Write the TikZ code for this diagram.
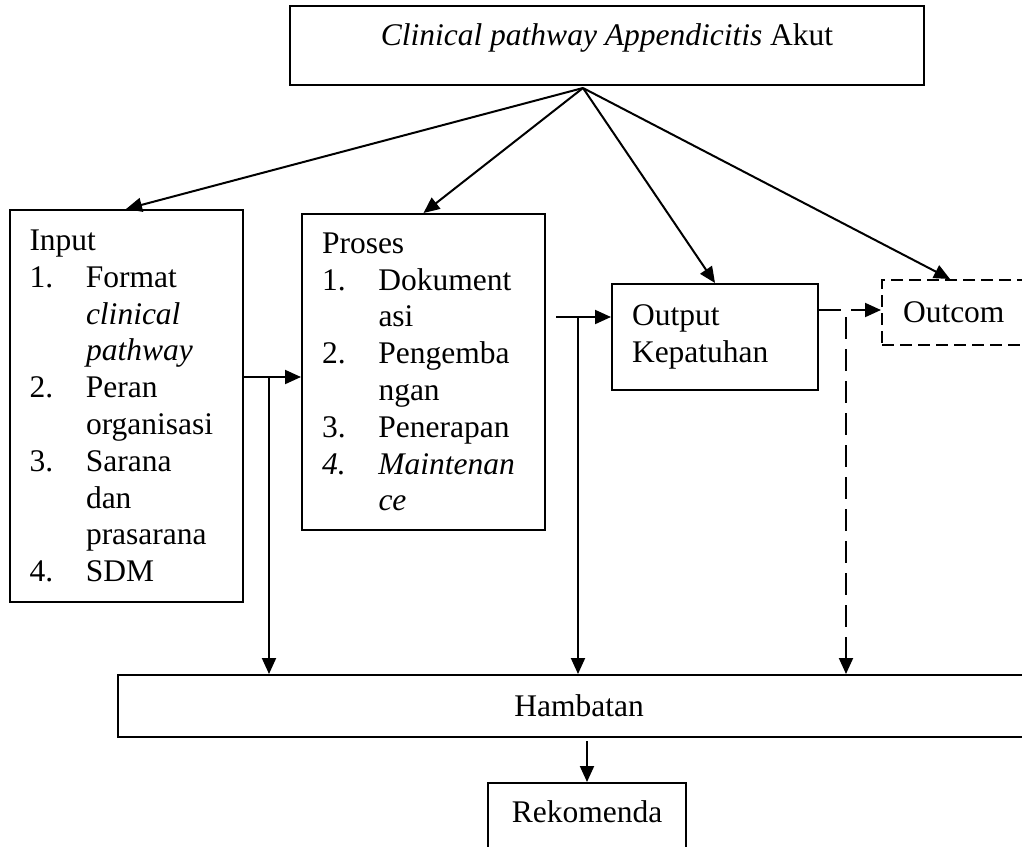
\documentclass[tikz,border=0pt]{standalone}
\usepackage{fontspec}
\setmainfont{Liberation Serif}
\usetikzlibrary{arrows.meta,calc,positioning}
\def\num(#1){\makebox[56.5pt][l]{#1}}
\def\cont(#1){\hspace*{56.5pt}#1}

\begin{document}
\begin{tikzpicture}[x=1pt,y=-1pt,
  every node/.style={font=\fontsize{31.5}{36.8}\selectfont},
  box/.style={draw,line width=2pt,inner xsep=20pt,align=left},
  dashbox/.style={box,dash pattern=on 12pt off 6pt},
  arr/.style={line width=2pt,-{Triangle[length=16pt,width=14pt]}},
  dasharr/.style={arr,dash pattern=on 22pt off 10pt}]

\useasboundingbox (0,0) rectangle (1022,846);
\clip (0,0) rectangle (1022,846);

\node (title) at (607,45.5) [draw,line width=2pt,minimum width=634pt,inner ysep=8pt,text height=31pt,text depth=32pt] {\textit{Clinical pathway Appendicitis} Akut};

\node (input) at (126,406) [box,minimum width=233pt,minimum height=392pt,text width=193pt]
  {Input\\ \num(1.)Format\\ \cont(\textit{clinical})\\ \cont(\textit{pathway})\\ \num(2.)Peran\\ \cont(organisasi)\\ \num(3.)Sarana\\ \cont(dan)\\ \cont(prasarana)\\ \num(4.)SDM};
\node (proses) at (423.5,372) [box,minimum width=243pt,minimum height=316pt,text width=203pt]
  {Proses\\ \num(1.)Dokument\\ \cont(asi)\\ \num(2.)Pengemba\\ \cont(ngan)\\ \num(3.)Penerapan\\ \num(\textit{4.})\textit{Maintenan}\\ \cont(\textit{ce})};
\node (output) at (715,337) [box,minimum width=206pt,minimum height=106pt,text width=166pt] {Output\\ Kepatuhan};
\node (outcom) at (961,312.5) [dashbox,minimum width=158pt,minimum height=65pt,text width=116pt,inner xsep=21pt] {Outcom};

\node (hambatan) at (579,706) [draw,line width=2pt,minimum width=922pt,minimum height=62pt] {Hambatan};
\node (rekom) at (587,826.5) [draw,line width=2pt,minimum width=198pt,inner ysep=8pt,text height=31pt,text depth=40pt] {Rekomenda};

\coordinate (apex) at (583,88);
\coordinate (j1) at (269,377);
\coordinate (j2) at (578,317);
\coordinate (j3) at (846,310);

\draw[arr] (apex)--(input.north);
\draw[arr] (apex)--(proses.north);
\draw[arr] (apex)--(output.north);
\draw[arr] (apex)--([xshift=-11pt]outcom.north);

\draw[arr] (input.east |- j1)--(proses.west |- j1);
\draw[arr] (j1)--(j1 |- hambatan.north);
\draw[arr] ([xshift=10pt]proses.east |- j2)--(output.west |- j2);
\draw[arr] (j2)--(j2 |- hambatan.north);
\draw[dasharr] (output.east |- j3)--(outcom.west |- j3);
\draw[dasharr] ([yshift=-7pt]j3)--(j3 |- hambatan.north);

\draw[arr] ([yshift=-3pt]rekom.north |- hambatan.south)--(rekom.north);
\end{tikzpicture}
\end{document}
